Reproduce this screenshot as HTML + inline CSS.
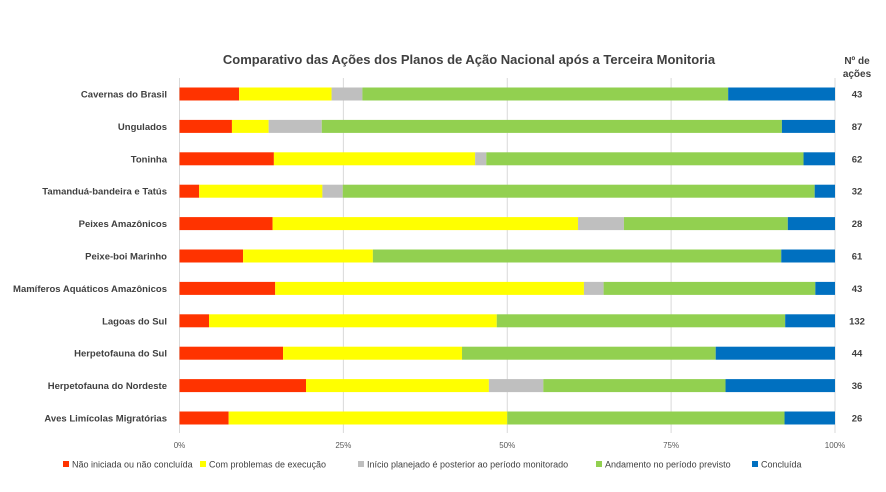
<!DOCTYPE html>
<html><head><meta charset="utf-8">
<style>
body{margin:0;background:#fff;width:886px;height:487px;overflow:hidden;font-family:"Liberation Sans",sans-serif;}
svg text{font-family:"Liberation Sans",sans-serif;}
</style></head>
<body>
<svg id="chart" width="886" height="487" viewBox="0 0 886 487" xmlns="http://www.w3.org/2000/svg">
<text x="469" y="64" text-anchor="middle" font-size="13" font-weight="bold" fill="#404040">Comparativo das Ações dos Planos de Ação Nacional após a Terceira Monitoria</text>
<text x="857" y="64" text-anchor="middle" font-size="10" font-weight="bold" fill="#404040">Nº de</text>
<text x="857" y="77" text-anchor="middle" font-size="10" font-weight="bold" fill="#404040">ações</text>
<g id="grid"></g><g id="bars"></g><g id="labels"></g><g id="legend"></g>
</svg>
<script>
const categories=["Cavernas do Brasil","Ungulados","Toninha","Tamanduá-bandeira e Tatús","Peixes Amazônicos","Peixe-boi Marinho","Mamíferos Aquáticos Amazônicos","Lagoas do Sul","Herpetofauna do Sul","Herpetofauna do Nordeste","Aves Limícolas Migratórias"];
const naoIniciada=[9.1,8.0,14.4,3.0,14.2,9.7,14.6,4.5,15.8,19.3,7.5];
const comProblemas=[14.1,5.6,30.7,18.8,46.6,19.8,47.1,43.9,27.3,27.9,42.5];
const inicioPosterior=[4.7,8.1,1.7,3.1,7.0,0,3.0,0,0,8.3,0];
const andamento=[55.8,70.2,48.4,72.0,25.0,62.3,32.3,44.0,38.7,27.8,42.3];
const concluida=[16.3,8.1,4.8,3.1,7.2,8.2,3.0,7.6,18.2,16.7,7.7];
const totals=[43,87,62,32,28,61,43,132,44,36,26];
const ticks=[0,25,50,75,100];
const seriesNames=["Não iniciada ou não concluída","Com problemas de execução","Início planejado é posterior ao período monitorado","Andamento no período previsto","Concluída"];
const colors=["#ff3300","#ffff00","#bfbfbf","#92d050","#0070c0"];
const series=[naoIniciada,comProblemas,inicioPosterior,andamento,concluida];

const NS="http://www.w3.org/2000/svg";
const x0=179.5,x1=835;
const xs=v=>x0+(x1-x0)*v/100;
const yc=i=>94+i*32.4;
const barH=13;
function mk(tag,attrs,parent,txt){const e=document.createElementNS(NS,tag);for(const k in attrs)e.setAttribute(k,attrs[k]);if(txt!==undefined)e.textContent=txt;parent.appendChild(e);return e;}
const grid=document.getElementById('grid'),bars=document.getElementById('bars'),labels=document.getElementById('labels'),legend=document.getElementById('legend');
ticks.forEach(t=>{
  const l=mk('line',{x1:xs(t),x2:xs(t),y1:78,y2:433,stroke:"#d9d9d9","stroke-width":1},grid);
  
  
  const tx=mk('text',{x:xs(t),y:448,"text-anchor":"middle","font-size":8,fill:"#595959"},grid,t+"%");
  
  
});
categories.forEach((c,i)=>{
  let cum=0;
  series.forEach((s,k)=>{
    const v=s[i];
    if(v>0){
      const r=mk('rect',{x:xs(cum),y:yc(i)-barH/2,width:xs(cum+v)-xs(cum),height:barH,fill:colors[k]},bars);
      
      
    }
    cum+=v;
  });
  const lb=mk('text',{x:167,y:yc(i)+3.5,"text-anchor":"end","font-size":9.5,"font-weight":"bold",fill:"#404040"},labels,c);
  
  
  const tl=mk('text',{x:857,y:yc(i)+3.5,"text-anchor":"middle","font-size":9.5,"font-weight":"bold",fill:"#404040"},labels,totals[i]);
  
  
});
const legX=[63,200,358,596,752];
seriesNames.forEach((n,k)=>{
  const g=mk('g',{},legend);
  
  
  mk('rect',{x:legX[k],y:461,width:6,height:6,fill:colors[k]},g);
  mk('text',{x:legX[k]+9,y:467.5,"font-size":9,fill:"#404040"},g,n);
});
</script>
</body></html>
